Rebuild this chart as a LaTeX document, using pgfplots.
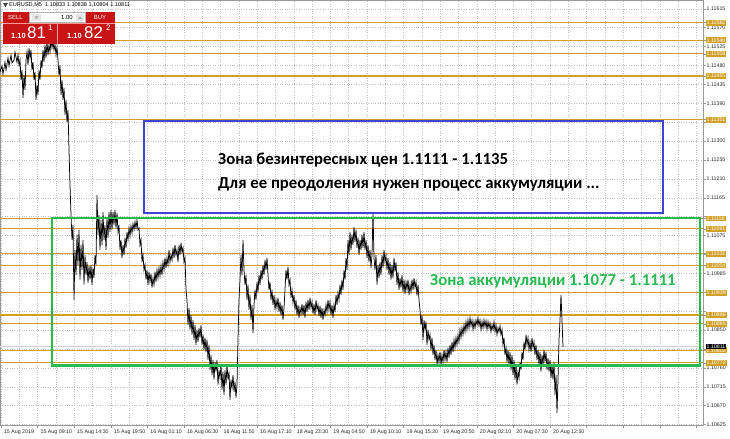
\documentclass[border=0pt]{standalone}
\usepackage{fontspec}
\setmainfont{Liberation Sans}
\newfontfamily\annfont{Carlito}
\usepackage{pgfplots}
\pgfplotsset{compat=1.18}

\definecolor{lvl}{RGB}{210,160,40}
\definecolor{zblue}{RGB}{60,70,210}
\definecolor{zgreen}{RGB}{40,185,80}
\definecolor{mtred}{RGB}{200,20,20}
\definecolor{gridc}{RGB}{195,195,195}

\begin{document}
\begin{tikzpicture}
\useasboundingbox (0,-14bp) rectangle (730bp,425bp);
\begin{axis}[
  at={(0,0)}, anchor=south west,
  scale only axis, width=703bp, height=425bp,
  xmin=0, xmax=703, ymin=1.10624, ymax=1.11636,
  axis line style={draw=gray!80, line width=0.7bp},
  tick style={draw=gray!80, line width=0.5bp},
  tick align=outside, major tick length=2.5bp, minor tick length=0pt,
  xtick pos=bottom, ytick pos=right, yticklabel pos=right,
  xtick={1,37.6,74.2,110.8,147.4,184,220.6,257.2,293.8,330.4,367,403.6,440.2,476.8,513.4,550,586.6,623.2,659.8,696.4},
  xticklabels={15 Aug 2019,15 Aug 09:10,15 Aug 14:30,15 Aug 19:50,16 Aug 01:10,16 Aug 06:30,16 Aug 11:50,16 Aug 17:10,18 Aug 23:30,19 Aug 04:50,19 Aug 10:10,19 Aug 15:30,19 Aug 20:50,20 Aug 02:10,20 Aug 07:30,20 Aug 12:50,,,,},
  minor x tick num=1,
  ytick={1.10625,1.10670,1.10715,1.10760,1.10805,1.10850,1.10895,1.10940,1.10985,1.11030,1.11075,1.11120,1.11165,1.11210,1.11255,1.11300,1.11345,1.11390,1.11435,1.11480,1.11525,1.11570,1.11615},
  yticklabels={1.10625,1.10670,1.10715,1.10760,,1.10850,,,1.10985,,1.11075,,1.11165,1.11210,1.11255,1.11300,,1.11390,1.11435,1.11480,1.11525,1.11570,1.11615},
  grid=both,
  major grid style={gridc, dotted, line width=0.5bp},
  minor grid style={gridc, dotted, line width=0.5bp},
  tick label style={font=\fontsize{5.3}{6}\selectfont, text=black!85},
  xticklabel style={anchor=north west, xshift=-0.5bp, yshift=1bp},
  yticklabel style={anchor=west, inner sep=1bp},
  extra y ticks={1.11582,1.11540,1.11508,1.11455,1.11351,1.11116,1.11091,1.11032,1.11004,1.10939,1.10886,1.10865,1.10802,1.10772},
  extra y tick labels={1.11582,1.11540,1.11508,1.11455,1.11351,1.11116,1.11091,1.11032,1.11004,1.10939,1.10886,1.10865,1.10802,1.10772},
  extra y tick style={grid=major, major grid style={lvl, solid, line width=1.2bp}, major tick length=2.5bp,
    yticklabel style={fill=lvl, text=white}},
]
\draw[gray!35, line width=0.6bp] (axis cs:0,1.10811) -- (axis cs:703,1.10811);
\coordinate (bid) at (axis cs:703,1.10811);

\addplot[black, line width=0.75bp] coordinates {
(0,1.11465)(2,1.11479)(3,1.11460)(5,1.11488)(6,1.11469)(8,1.11498)(9,1.11479)(11,1.11505)(12,1.11486)(14,1.11493)(15,1.11512)(17,1.11488)(18,1.11505)(19,1.11481)
(20,1.11493)(21,1.11446)(22,1.11469)(23,1.11403)(24,1.11457)(25,1.11422)(26,1.11493)(27,1.11512)(28,1.11481)(29,1.11522)(30,1.11498)(31,1.11517)(32,1.11469)(33,1.11488)(34,1.11446)(35,1.11465)(36,1.11398)(37,1.11434)(38,1.11410)(39,1.11469)
(40,1.11446)(41,1.11493)(42,1.11474)(43,1.11517)(44,1.11488)(45,1.11529)(46,1.11498)(47,1.11536)(48,1.11505)(49,1.11529)(50,1.11512)(51,1.11541)(52,1.11522)(53,1.11536)(54,1.11517)(55,1.11531)(56,1.11505)(57,1.11524)(58,1.11493)(59,1.11457)
(60,1.11481)(61,1.11410)(62,1.11446)(63,1.11398)(64,1.11427)(65,1.11362)(66,1.11398)(67,1.11346)(68,1.11374)(69,1.11279)(70,1.11196)(71,1.11124)(72,1.11065)(73,1.11100)(74,1.10922)(75,1.11041)(76,1.10981)(77,1.11077)(78,1.11005)(79,1.11089)
(80,1.10970)(81,1.11053)(82,1.10993)(83,1.11065)(84,1.10958)(85,1.11029)(86,1.10981)(87,1.11012)(88,1.10962)(89,1.11003)(90,1.10970)(91,1.11005)(92,1.10958)(93,1.10998)(94,1.10974)(95,1.11029)(96,1.11005)(97,1.11172)(98,1.11077)(99,1.11124)
(100,1.11041)(101,1.11112)(102,1.11053)(103,1.11131)(104,1.11065)(105,1.11100)(106,1.11041)(107,1.11117)(108,1.11070)(109,1.11131)(110,1.11084)(111,1.11136)(112,1.11089)(113,1.11131)(114,1.11100)(115,1.11136)(116,1.11093)(117,1.11129)(118,1.11084)(119,1.11100)
(120,1.11041)(121,1.11065)(122,1.11022)(123,1.11053)(124,1.11029)(125,1.11070)(126,1.11046)(127,1.11084)(128,1.11065)(129,1.11093)(130,1.11074)(131,1.11098)(132,1.11081)(133,1.11103)(134,1.11089)(135,1.11108)(136,1.11093)(137,1.11112)(138,1.11089)(139,1.11093)
(140,1.11053)(141,1.11065)(142,1.11012)(143,1.11029)(144,1.10993)(145,1.11005)(146,1.10970)(147,1.10993)(148,1.10958)(149,1.10989)(150,1.10965)(151,1.10984)(152,1.10951)(153,1.10974)(154,1.10958)(155,1.10989)(156,1.10965)(157,1.10993)(158,1.10974)(159,1.10998)
(160,1.10979)(161,1.11003)(162,1.10981)(163,1.11012)(164,1.10993)(165,1.11022)(166,1.10998)(167,1.11022)(168,1.11005)(169,1.11041)(170,1.11012)(171,1.11029)(172,1.11017)(173,1.11046)(174,1.11022)(175,1.11053)(176,1.11029)(177,1.11041)(178,1.11012)(179,1.11053)
(180,1.11029)(181,1.11058)(182,1.11036)(183,1.11046)(184,1.11012)(185,1.11022)(186,1.10946)(187,1.10922)(188,1.10862)(189,1.10903)(190,1.10851)(191,1.10886)(192,1.10839)(193,1.10874)(194,1.10827)(195,1.10862)(196,1.10815)(197,1.10851)(198,1.10822)(199,1.10855)
(200,1.10832)(201,1.10862)(202,1.10815)(203,1.10839)(204,1.10803)(205,1.10832)(206,1.10798)(207,1.10827)(208,1.10779)(209,1.10815)(210,1.10755)(211,1.10791)(212,1.10743)(213,1.10779)(214,1.10732)(215,1.10774)(216,1.10751)(217,1.10779)(218,1.10720)(219,1.10755)
(220,1.10736)(221,1.10767)(222,1.10708)(223,1.10751)(224,1.10696)(225,1.10755)(226,1.10720)(227,1.10767)(228,1.10732)(229,1.10751)(230,1.10684)(231,1.10732)(232,1.10713)(233,1.10743)(234,1.10703)(235,1.10727)(236,1.10689)(237,1.10720)(238,1.10827)(239,1.10922)
(240,1.10970)(241,1.11029)(242,1.10981)(243,1.11065)(244,1.10993)(245,1.10958)(246,1.10981)(247,1.10922)(248,1.10958)(249,1.10898)(250,1.10934)(251,1.10874)(252,1.10910)(253,1.10843)(254,1.10910)(255,1.10946)(256,1.10922)(257,1.10965)(258,1.10941)(259,1.10981)
(260,1.10958)(261,1.10993)(262,1.10970)(263,1.11005)(264,1.10981)(265,1.11017)(266,1.10993)(267,1.11022)(268,1.10981)(269,1.10946)(270,1.10965)(271,1.10922)(272,1.10946)(273,1.10910)(274,1.10934)(275,1.10898)(276,1.10922)(277,1.10903)(278,1.10927)(279,1.10893)
(280,1.10917)(281,1.10886)(282,1.10910)(283,1.10874)(284,1.10903)(285,1.10946)(286,1.10993)(287,1.10970)(288,1.11001)(289,1.10958)(290,1.10970)(291,1.10927)(292,1.10946)(293,1.10915)(294,1.10934)(295,1.10898)(296,1.10922)(297,1.10886)(298,1.10910)(299,1.10879)
(300,1.10903)(301,1.10889)(302,1.10912)(303,1.10886)(304,1.10910)(305,1.10879)(306,1.10917)(307,1.10893)(308,1.10922)(309,1.10898)(310,1.10927)(311,1.10903)(312,1.10917)(313,1.10889)(314,1.10912)(315,1.10886)(316,1.10922)(317,1.10898)(318,1.10910)(319,1.10884)
(320,1.10908)(321,1.10879)(322,1.10903)(323,1.10874)(324,1.10898)(325,1.10886)(326,1.10910)(327,1.10893)(328,1.10922)(329,1.10898)(330,1.10917)(331,1.10886)(332,1.10910)(333,1.10879)(334,1.10910)(335,1.10893)(336,1.10934)(337,1.10910)(338,1.10939)(339,1.10922)
(340,1.10958)(341,1.10934)(342,1.10970)(343,1.10946)(344,1.10993)(345,1.10970)(346,1.11022)(347,1.10993)(348,1.11065)(349,1.11029)(350,1.11084)(351,1.11041)(352,1.11077)(353,1.11053)(354,1.11096)(355,1.11060)(356,1.11089)(357,1.11046)(358,1.11070)(359,1.11029)
(360,1.11065)(361,1.11041)(362,1.11077)(363,1.11046)(364,1.11084)(365,1.11041)(366,1.11065)(367,1.11022)(368,1.11053)(369,1.11012)(370,1.11041)(371,1.10998)(372,1.11029)(373,1.11129)(374,1.11022)(375,1.10993)(376,1.11029)(377,1.10958)(378,1.11005)(379,1.10974)
(380,1.11012)(381,1.10981)(382,1.11029)(383,1.10998)(384,1.11041)(385,1.11012)(386,1.11027)(387,1.10993)(388,1.11022)(389,1.10981)(390,1.11012)(391,1.10970)(392,1.11005)(393,1.10974)(394,1.11022)(395,1.10989)(396,1.11012)(397,1.10958)(398,1.10989)(399,1.10946)
(400,1.10974)(401,1.10951)(402,1.10981)(403,1.10941)(404,1.10970)(405,1.10936)(406,1.10965)(407,1.10946)(408,1.10970)(409,1.10934)(410,1.10958)(411,1.10941)(412,1.10970)(413,1.10946)(414,1.10974)(415,1.10951)(416,1.10965)(417,1.10932)(418,1.10958)(419,1.10922)
(420,1.10898)(421,1.10862)(422,1.10886)(423,1.10827)(424,1.10874)(425,1.10851)(426,1.10870)(427,1.10815)(428,1.10851)(429,1.10827)(430,1.10839)(431,1.10803)(432,1.10832)(433,1.10791)(434,1.10815)(435,1.10779)(436,1.10803)(437,1.10767)(438,1.10791)(439,1.10774)
(440,1.10798)(441,1.10767)(442,1.10791)(443,1.10774)(444,1.10803)(445,1.10779)(446,1.10798)(447,1.10774)(448,1.10808)(449,1.10784)(450,1.10815)(451,1.10791)(452,1.10822)(453,1.10798)(454,1.10827)(455,1.10808)(456,1.10832)(457,1.10815)(458,1.10839)(459,1.10822)
(460,1.10851)(461,1.10832)(462,1.10855)(463,1.10839)(464,1.10862)(465,1.10846)(466,1.10870)(467,1.10851)(468,1.10874)(469,1.10855)(470,1.10879)(471,1.10860)(472,1.10874)(473,1.10851)(474,1.10870)(475,1.10855)(476,1.10874)(477,1.10862)(478,1.10879)(479,1.10860)
(480,1.10874)(481,1.10851)(482,1.10870)(483,1.10855)(484,1.10874)(485,1.10858)(486,1.10872)(487,1.10851)(488,1.10870)(489,1.10855)(490,1.10867)(491,1.10846)(492,1.10862)(493,1.10851)(494,1.10870)(495,1.10846)(496,1.10862)(497,1.10839)(498,1.10855)(499,1.10846)
(500,1.10860)(501,1.10839)(502,1.10851)(503,1.10815)(504,1.10832)(505,1.10791)(506,1.10808)(507,1.10774)(508,1.10803)(509,1.10767)(510,1.10798)(511,1.10755)(512,1.10791)(513,1.10743)(514,1.10779)(515,1.10732)(516,1.10767)(517,1.10720)(518,1.10751)(519,1.10736)
(520,1.10774)(521,1.10755)(522,1.10798)(523,1.10779)(524,1.10822)(525,1.10803)(526,1.10839)(527,1.10815)(528,1.10832)(529,1.10803)(530,1.10822)(531,1.10798)(532,1.10832)(533,1.10808)(534,1.10822)(535,1.10791)(536,1.10815)(537,1.10779)(538,1.10803)(539,1.10767)
(540,1.10798)(541,1.10751)(542,1.10791)(543,1.10767)(544,1.10803)(545,1.10774)(546,1.10798)(547,1.10755)(548,1.10784)(549,1.10751)(550,1.10779)(551,1.10736)(552,1.10767)(553,1.10732)(554,1.10774)(555,1.10696)(556,1.10743)(557,1.10653)(558,1.10732)(559,1.10827)
(560,1.10874)(561,1.10934)(562,1.10874)(563,1.10810)
};

% zones
\draw[zblue, line width=2.8bp] (axis cs:144,1.11348) rectangle (axis cs:663,1.11129);
\draw[zgreen, line width=2.8bp] (axis cs:52,1.11117) rectangle (axis cs:700,1.10765);
\node[anchor=west, font=\annfont\bfseries\fontsize{16.8}{19}\selectfont, inner sep=0pt] at (axis cs:218,1.11255) {Зона безинтересных цен 1.1111 - 1.1135};
\node[anchor=west, font=\annfont\bfseries\fontsize{16.8}{19}\selectfont, inner sep=0pt] at (axis cs:218,1.11196) {Для ее преодоления нужен процесс аккумуляции ...};
\node[anchor=west, font=\annfont\bfseries\fontsize{16.8}{19}\selectfont, text=zgreen, inner sep=0pt] at (axis cs:430,1.10967) {Зона аккумуляции 1.1077 - 1.1111};
\end{axis}

\node[anchor=west, fill=black, text=white, font=\fontsize{5.3}{6}\selectfont, inner sep=1bp, xshift=2.5bp] at (bid) {1.10811};

% one-click trading panel and header
\begin{scope}[x=1bp, y=-1bp, shift={(0,425bp)}]
\fill[black!75] (3,3) -- (8,3) -- (5.5,7) -- cycle;
\node[anchor=west, font=\fontsize{5.6}{6}\selectfont, inner sep=0pt] at (9,5) {EURUSD,M5\ \ 1.10833 1.10838 1.10804 1.10811};
\fill[mtred] (3,12) rectangle (115,44);
\fill[white] (29,12.5) rectangle (85,22.5);
\draw[gray!60, line width=0.4bp] (29,12.5) rectangle (85,22.5);
\fill[gray!20] (32,14) rectangle (41,21);
\fill[gray!20] (76,14) rectangle (84,21);
\fill[gray!70] (34.5,16.5) -- (38.5,16.5) -- (36.5,19) -- cycle;
\fill[gray!70] (78,19) -- (82,19) -- (80,16.5) -- cycle;
\node[anchor=east, font=\fontsize{6}{7}\selectfont, inner sep=0pt] at (73,17.5) {1.00};
\node[text=white, font=\fontsize{6}{7}\selectfont, inner sep=0pt] at (15.5,17.5) {SELL};
\node[text=white, font=\fontsize{6}{7}\selectfont, inner sep=0pt] at (100,17.5) {BUY};
\draw[red!40, line width=0.5bp] (3,23) -- (115,23);
\draw[red!40, line width=0.5bp] (57.5,23) -- (57.5,44);
\node[anchor=base west, text=white, font=\bfseries\fontsize{7.5}{8}\selectfont, inner sep=0pt] at (11,39) {1.10};
\node[anchor=base west, text=white, font=\fontsize{17}{18}\selectfont, inner sep=0pt] at (27,39) {81};
\node[anchor=base west, text=white, font=\fontsize{8}{9}\selectfont, inner sep=0pt] at (48,31) {1};
\node[anchor=base west, text=white, font=\bfseries\fontsize{7.5}{8}\selectfont, inner sep=0pt] at (67,39) {1.10};
\node[anchor=base west, text=white, font=\fontsize{17}{18}\selectfont, inner sep=0pt] at (84,39) {82};
\node[anchor=base west, text=white, font=\fontsize{8}{9}\selectfont, inner sep=0pt] at (106,31) {2};
\end{scope}
\end{tikzpicture}
\end{document}
